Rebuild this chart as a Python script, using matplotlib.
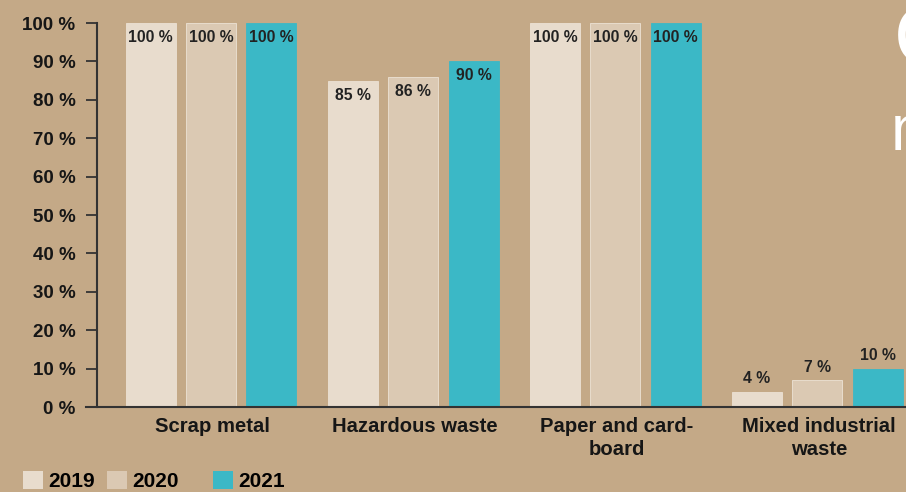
import matplotlib
import numpy as np

matplotlib.use("Agg")
import matplotlib.pyplot as plt
from matplotlib.patches import Patch

# ----------------------------------------------------------------- dati
CATEGORIES = ["Scrap metal", "Hazardous waste", "Paper and card-\nboard", "Mixed industrial\nwaste"]
YEARS = ["2019", "2020", "2021"]
V2019 = [100, 85, 100, 4]
V2020 = [100, 86, 100, 7]
V2021 = [100, 90, 100, 10]
Y_TICKS = [0, 10, 20, 30, 40, 50, 60, 70, 80, 90, 100]

BG = "#c4a987"
COLORS = ["#e8dccd", "#dbc9b3", "#3bb8c6"]
INK = "#161616"
FONT = ["Liberation Sans", "DejaVu Sans"]

plt.rcParams["font.family"] = FONT


def main() -> None:
    fig = plt.figure(figsize=(9.06, 4.92), dpi=100, facecolor=BG)
    # asse y a x=97 px, base a y=407 px, 100 % a y=23 px
    ax = fig.add_axes([97 / 906, 85 / 492, 809 / 906, 384 / 492])
    ax.set_facecolor(BG)

    x = np.arange(len(CATEGORIES))
    off, w = 0.299, 0.247
    series = [V2019, V2020, V2021]
    for i, vals in enumerate(series):
        bars = ax.bar(x + (i - 1) * off - 0.008, vals, width=w, color=COLORS[i],
                      edgecolor="#ece2d5" if i < 2 else COLORS[i], linewidth=0.6)
        for b, v in zip(bars, vals):
            cx = b.get_x() + b.get_width() / 2
            if v >= 50:
                ax.annotate(f"{v} %", (cx, v), textcoords="offset points", xytext=(0, -5),
                            ha="center", va="top", fontsize=11.3, fontweight="bold", color="#222")
            else:
                ax.annotate(f"{v} %", (cx, v), textcoords="offset points", xytext=(0, 4),
                            ha="center", va="bottom", fontsize=11.3, fontweight="bold", color="#222")

    ax.set_xlim(-0.572, 3.43)
    ax.set_ylim(0, 100)
    ax.set_yticks(Y_TICKS)
    ax.set_yticklabels([f"{t} %" for t in Y_TICKS], fontsize=13.5, fontweight="bold", color=INK)
    ax.set_xticks(x)
    ax.set_xticklabels(CATEGORIES, fontsize=14.6, fontweight="bold", color=INK, linespacing=1.3)
    ax.tick_params(axis="x", length=0, pad=7)
    ax.tick_params(axis="y", length=8, width=1.3, color="#333", pad=7.5)
    for s in ("top", "right"):
        ax.spines[s].set_visible(False)
    ax.spines["left"].set_color("#333")
    ax.spines["left"].set_linewidth(1.5)
    ax.spines["bottom"].set_color("#333")
    ax.spines["bottom"].set_linewidth(1.5)
    ax.spines["bottom"].set_bounds(-0.627, 3.45)
    ax.spines["bottom"].set_clip_on(False)

    # legenda: tre voci separate, spaziatura irregolare come nell'originale
    for (yr, c, lx) in zip(YEARS, COLORS, [23 / 906, 107 / 906, 213 / 906]):
        fig.legend(handles=[Patch(facecolor=c, edgecolor="none")], labels=[yr],
                   loc="lower left", bbox_to_anchor=(lx, 0.002), frameon=False,
                   prop={"weight": "bold", "size": 15},
                   handlelength=0.95, handleheight=0.95, handletextpad=0.25,
                   borderpad=0.0, borderaxespad=0.0)

    # frammenti di titolo bianco tagliati sul bordo destro
    fig.text(894 / 906, 1 - 63 / 492, "C", fontsize=58, color="white", ha="left",
             va="baseline", family=["Liberation Sans", "DejaVu Sans"])
    fig.text(891 / 906, 1 - 150 / 492, "n", fontsize=46, color="white", ha="left",
             va="baseline", family=["Liberation Sans", "DejaVu Sans"])

    fig.savefig("out.png", dpi=100, facecolor=BG)


if __name__ == "__main__":
    main()
